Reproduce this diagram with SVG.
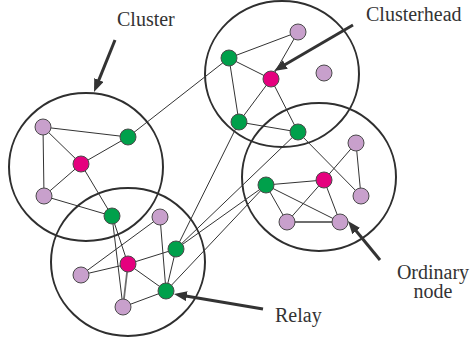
<svg xmlns="http://www.w3.org/2000/svg" width="472" height="338" viewBox="0 0 472 338">
<style>
.cl{fill:none;stroke:#2f2f2f;stroke-width:2}
.e{stroke:#333;stroke-width:1;fill:none}
.e2{stroke:#6e6e6e;stroke-width:1.8;fill:none}
.n circle{stroke:#4a4a4a;stroke-width:1}
.g{fill:#00a04b}
.m{fill:#e5007e}
.p{fill:#c8a0cc}
.ar{stroke:#333;stroke-width:3;fill:none}
text{font-family:"Liberation Serif","Times New Roman",serif;font-size:20px;fill:#333}
</style>
<defs>
<marker id="ah" markerUnits="userSpaceOnUse" markerWidth="14" markerHeight="11" refX="1" refY="5" orient="auto">
<path d="M0,0 L13,5 L0,10 z" fill="#333"/>
</marker>
</defs>
<g id="clusters">
<ellipse class="cl" cx="86" cy="167" rx="77" ry="74"/>
<ellipse class="cl" cx="128" cy="262" rx="77" ry="74"/>
<ellipse class="cl" cx="282" cy="74" rx="77" ry="73"/>
<ellipse class="cl" cx="319" cy="177" rx="77" ry="74"/>
</g>
<g id="connectors">
<line class="e" x1="43" y1="127" x2="128" y2="137"/>
<line class="e" x1="43" y1="127" x2="81" y2="164"/>
<line class="e" x1="43" y1="127" x2="44" y2="196"/>
<line class="e" x1="81" y1="164" x2="128" y2="137"/>
<line class="e" x1="81" y1="164" x2="44" y2="196"/>
<line class="e" x1="81" y1="164" x2="112" y2="216"/>
<line class="e" x1="44" y1="196" x2="112" y2="216"/>
<line class="e" x1="128" y1="137" x2="229" y2="58"/>
<line class="e" x1="229" y1="58" x2="298" y2="32"/>
<line class="e" x1="229" y1="58" x2="271" y2="79"/>
<line class="e" x1="229" y1="58" x2="239" y2="122"/>
<line class="e" x1="298" y1="32" x2="271" y2="79"/>
<line class="e" x1="271" y1="79" x2="239" y2="122"/>
<line class="e" x1="271" y1="79" x2="298" y2="132"/>
<line class="e" x1="239" y1="122" x2="298" y2="132"/>
<line class="e" x1="298" y1="132" x2="361" y2="196"/>
<line class="e" x1="356" y1="143" x2="361" y2="196"/>
<line class="e" x1="356" y1="143" x2="324" y2="180"/>
<line class="e" x1="324" y1="180" x2="266" y2="185"/>
<line class="e" x1="324" y1="180" x2="287" y2="222"/>
<line class="e" x1="324" y1="180" x2="340" y2="222"/>
<line class="e" x1="266" y1="185" x2="287" y2="222"/>
<line class="e" x1="266" y1="185" x2="340" y2="222"/>
<line class="e2" x1="287" y1="222" x2="340" y2="222"/>
<line class="e" x1="239" y1="122" x2="176" y2="249"/>
<line class="e" x1="298" y1="132" x2="176" y2="249"/>
<line class="e" x1="266" y1="185" x2="176" y2="249"/>
<line class="e" x1="266" y1="185" x2="166" y2="291"/>
<line class="e" x1="112" y1="216" x2="128" y2="264"/>
<line class="e" x1="112" y1="216" x2="123" y2="307"/>
<line class="e2" x1="128" y1="264" x2="123" y2="307"/>
<line class="e" x1="160" y1="217" x2="81" y2="275"/>
<line class="e" x1="160" y1="217" x2="166" y2="291"/>
<line class="e" x1="128" y1="264" x2="81" y2="275"/>
<line class="e" x1="128" y1="264" x2="176" y2="249"/>
<line class="e" x1="128" y1="264" x2="166" y2="291"/>
<line class="e" x1="176" y1="249" x2="166" y2="291"/>
<line class="e" x1="166" y1="291" x2="123" y2="307"/>
</g>
<g id="nodes" class="n">
<g id="n1"><circle class="p" cx="43" cy="127" r="8"/></g>
<g id="n2"><circle class="g" cx="128" cy="137" r="8"/></g>
<g id="n3"><circle class="m" cx="81" cy="164" r="8"/></g>
<g id="n4"><circle class="p" cx="44" cy="196" r="8"/></g>
<g id="n5"><circle class="g" cx="112" cy="216" r="8"/></g>
<g id="n6"><circle class="p" cx="160" cy="217" r="8"/></g>
<g id="n7"><circle class="g" cx="176" cy="249" r="8"/></g>
<g id="n8"><circle class="m" cx="128" cy="264" r="8"/></g>
<g id="n9"><circle class="p" cx="81" cy="275" r="8"/></g>
<g id="n10"><circle class="g" cx="166" cy="291" r="8"/></g>
<g id="n11"><circle class="p" cx="123" cy="307" r="8"/></g>
<g id="n12"><circle class="p" cx="298" cy="32" r="8"/></g>
<g id="n13"><circle class="g" cx="229" cy="58" r="8"/></g>
<g id="n14"><circle class="m" cx="271" cy="79" r="8"/></g>
<g id="n15"><circle class="p" cx="324" cy="73" r="8"/></g>
<g id="n16"><circle class="g" cx="239" cy="122" r="8"/></g>
<g id="n17"><circle class="g" cx="298" cy="132" r="8"/></g>
<g id="n18"><circle class="p" cx="356" cy="143" r="8"/></g>
<g id="n19"><circle class="m" cx="324" cy="180" r="8"/></g>
<g id="n20"><circle class="g" cx="266" cy="185" r="8"/></g>
<g id="n21"><circle class="p" cx="361" cy="196" r="8"/></g>
<g id="n22"><circle class="p" cx="287" cy="222" r="8"/></g>
<g id="n23"><circle class="p" cx="340" cy="222" r="8"/></g>
</g>
<g id="labels">
<g id="lbl-cluster">
<text x="117" y="26">Cluster</text>
<line class="ar" x1="115" y1="40" x2="98.5" y2="80.9" marker-end="url(#ah)"/>
</g>
<g id="lbl-clusterhead">
<text x="366" y="21">Clusterhead</text>
<line class="ar" x1="353" y1="25" x2="284.4" y2="65" marker-end="url(#ah)"/>
</g>
<g id="lbl-ordinary">
<text x="433" y="279" text-anchor="middle">Ordinary</text>
<text x="433" y="298" text-anchor="middle">node</text>
<line class="ar" x1="380" y1="260" x2="355.6" y2="230.3" marker-end="url(#ah)"/>
</g>
<g id="lbl-relay">
<text x="275" y="322">Relay</text>
<line class="ar" x1="263" y1="309" x2="185.8" y2="296" marker-end="url(#ah)"/>
</g>
</g>
</svg>
